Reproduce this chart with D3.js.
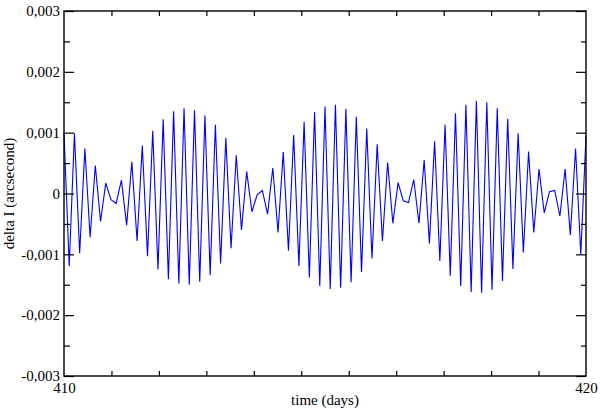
<!DOCTYPE html>
<html>
<head>
<meta charset="utf-8">
<script src="https://cdn.jsdelivr.net/npm/d3@7"></script>
<style>
  html, body { margin: 0; padding: 0; background: #fff; }
  svg { display: block; }
  text { font-family: "Liberation Serif", "DejaVu Serif", serif; fill: #000; }
</style>
</head>
<body>
<svg id="chart" width="600" height="412"></svg>
<script>
// ---- data ----
const timeDays = [
  410.0,410.1,410.2,410.3,410.4,410.5,410.6,410.7,410.8,410.9,
  411.0,411.1,411.2,411.3,411.4,411.5,411.6,411.7,411.8,411.9,
  412.0,412.1,412.2,412.3,412.4,412.5,412.6,412.7,412.8,412.9,
  413.0,413.1,413.2,413.3,413.4,413.5,413.6,413.7,413.8,413.9,
  414.0,414.1,414.2,414.3,414.4,414.5,414.6,414.7,414.8,414.9,
  415.0,415.1,415.2,415.3,415.4,415.5,415.6,415.7,415.8,415.9,
  416.0,416.1,416.2,416.3,416.4,416.5,416.6,416.7,416.8,416.9,
  417.0,417.1,417.2,417.3,417.4,417.5,417.6,417.7,417.8,417.9,
  418.0,418.1,418.2,418.3,418.4,418.5,418.6,418.7,418.8,418.9,
  419.0,419.1,419.2,419.3,419.4,419.5,419.6,419.7,419.8,419.9,
  420.0
];
const deltaI = [
   0.00100,-0.00119, 0.00099,-0.00098, 0.00074,-0.00072, 0.00046,-0.00046, 0.00017,-0.00010,
  -0.00016, 0.00022,-0.00052, 0.00052,-0.00078, 0.00079,-0.00103, 0.00103,-0.00125, 0.00122,
  -0.00141, 0.00135,-0.00148, 0.00140,-0.00150, 0.00137,-0.00145, 0.00128,-0.00134, 0.00113,
  -0.00115, 0.00091,-0.00090, 0.00063,-0.00060, 0.00036,-0.00030,-0.00002, 0.00005,-0.00034,
   0.00042,-0.00064, 0.00068,-0.00094, 0.00096,-0.00119, 0.00118,-0.00138, 0.00134,-0.00152,
   0.00143,-0.00157, 0.00146,-0.00155, 0.00139,-0.00146, 0.00126,-0.00129, 0.00107,-0.00107,
   0.00081,-0.00078, 0.00051,-0.00049, 0.00018,-0.00012,-0.00015, 0.00023,-0.00049, 0.00055,
  -0.00082, 0.00086,-0.00111, 0.00113,-0.00135, 0.00132,-0.00152, 0.00146,-0.00162, 0.00152,
  -0.00163, 0.00150,-0.00158, 0.00140,-0.00144, 0.00123,-0.00124, 0.00099,-0.00097, 0.00069,
  -0.00064, 0.00040,-0.00032, 0.00003, 0.00005,-0.00037, 0.00040,-0.00068, 0.00074,-0.00100,
   0.00095
];
const xMajorTicks = [410, 420];
const yMajorTicks = [-0.003, -0.002, -0.001, 0, 0.001, 0.002, 0.003];
const yMinorTicks = [-0.0025, -0.0015, -0.0005, 0.0005, 0.0015, 0.0025];
const xMinorCount = 10;
const xLabel = "time (days)";
const yLabel = "delta I (arcsecond)";

// ---- layout ----
const svg = d3.select("#chart");
const m = { left: 64, right: 14, top: 11, bottom: 36 };
const W = 600, H = 412;
const x = d3.scaleLinear().domain([410, 420]).range([m.left, W - m.right]);
const y = d3.scaleLinear().domain([-0.003, 0.003]).range([H - m.bottom, m.top]);

const xMinorTicks = d3.range(1, xMinorCount + 1).map(k => 410 + k * (10 / (xMinorCount + 1)));

const loc = d3.formatLocale({ decimal: ",", thousands: ".", grouping: [3], currency: ["", ""], minus: "-" });
const fmt3 = loc.format(".3f");
const yFmt = v => (Math.abs(v) < 1e-12 ? "0" : fmt3(v));

const FS = 15;

// data line (drawn first, under the frame)
const line = d3.line().x((d, i) => x(timeDays[i])).y(d => y(d));
svg.append("path")
  .datum(deltaI)
  .attr("d", line)
  .attr("fill", "none")
  .attr("stroke", "#0000ff")
  .attr("stroke-width", 1.1)
  .attr("stroke-linejoin", "miter");

function styleAxis(g) {
  g.select(".domain").remove();
  g.selectAll(".tick line").attr("stroke", "#000").attr("stroke-width", 1.2);
}

// bottom axis: major labels + minor ticks (inward)
const gxB = svg.append("g").attr("transform", `translate(0,${y.range()[0]})`)
  .call(d3.axisBottom(x).tickValues(xMajorTicks).tickSize(0).tickPadding(6).tickFormat(d3.format("d")));
styleAxis(gxB);
gxB.selectAll("text").attr("font-size", FS).attr("font-family", "Liberation Serif");
svg.append("g").attr("transform", `translate(0,${y.range()[0]})`)
  .call(d3.axisBottom(x).tickValues(xMinorTicks).tickSize(-5).tickFormat(""))
  .call(styleAxis);
// top axis minor ticks
svg.append("g").attr("transform", `translate(0,${y.range()[1]})`)
  .call(d3.axisTop(x).tickValues(xMinorTicks).tickSize(-5).tickFormat(""))
  .call(styleAxis);

// left axis
const gyL = svg.append("g").attr("transform", `translate(${x.range()[0]},0)`)
  .call(d3.axisLeft(y).tickValues(yMajorTicks).tickSize(-10).tickPadding(4).tickFormat(yFmt));
styleAxis(gyL);
gyL.selectAll("text").attr("font-size", FS).attr("font-family", "Liberation Serif").attr("x", -4);
svg.append("g").attr("transform", `translate(${x.range()[0]},0)`)
  .call(d3.axisLeft(y).tickValues(yMinorTicks).tickSize(-6).tickFormat(""))
  .call(styleAxis);
// right axis
svg.append("g").attr("transform", `translate(${x.range()[1]},0)`)
  .call(d3.axisRight(y).tickValues(yMajorTicks).tickSize(-10).tickFormat(""))
  .call(styleAxis);
svg.append("g").attr("transform", `translate(${x.range()[1]},0)`)
  .call(d3.axisRight(y).tickValues(yMinorTicks).tickSize(-5).tickFormat(""))
  .call(styleAxis);

// frame
svg.append("rect")
  .attr("x", x.range()[0]).attr("y", y.range()[1])
  .attr("width", x.range()[1] - x.range()[0])
  .attr("height", y.range()[0] - y.range()[1])
  .attr("fill", "none").attr("stroke", "#000").attr("stroke-width", 1.4);

// axis titles
svg.append("text")
  .attr("x", (x.range()[0] + x.range()[1]) / 2)
  .attr("y", 405)
  .attr("text-anchor", "middle")
  .attr("font-size", FS)
  .text(xLabel);
svg.append("text")
  .attr("transform", `translate(14,${(y.range()[0] + y.range()[1]) / 2}) rotate(-90)`)
  .attr("text-anchor", "middle")
  .attr("font-size", FS)
  .text(yLabel);
</script>
</body>
</html>
